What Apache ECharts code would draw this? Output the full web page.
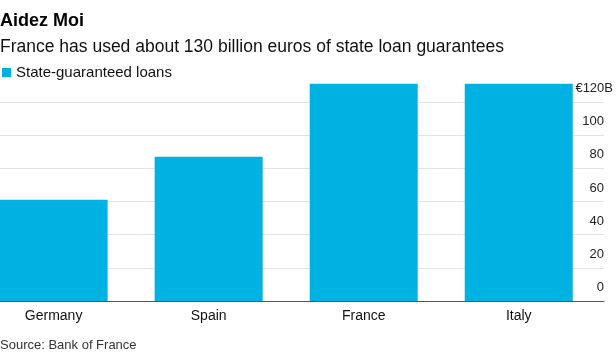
<!DOCTYPE html>
<html>
<head>
<meta charset="utf-8">
<script src="https://cdn.jsdelivr.net/npm/echarts@6/dist/echarts.min.js"></script>
<style>
html,body{margin:0;padding:0;background:#fff;}
#c{width:616px;height:361px;}
</style>
</head>
<body>
<div id="c"></div>
<script>
const categories = ['Germany', 'Spain', 'France', 'Italy'];
const loans = [61, 87, 131, 131];
const seriesName = 'State-guaranteed loans';
const yTicks = [0, 20, 40, 60, 80, 100, 120];
const titleText = 'Aidez Moi';
const subtitleText = 'France has used about 130 billion euros of state loan guarantees';
const sourceText = 'Source: Bank of France';

const FONT = '"Liberation Sans", Arial, Helvetica, sans-serif';
const BAR = '#00b2e2';

// category index axis window (the first band is cut by the left edge)
const X_MIN = -0.3458;
const X_MAX = 3.5499;

const barData = categories.map((c, i) => ({name: c, value: [i, loans[i]]}));

const chart = echarts.init(document.getElementById('c'), null, {renderer: 'canvas'});
chart.setOption({
  animation: false,
  backgroundColor: '#ffffff',
  textStyle: {fontFamily: FONT},
  title: [
    {text: titleText, left: 0, top: 12, padding: 0,
     textStyle: {fontFamily: FONT, fontSize: 18, fontWeight: 'bold', color: '#000'}},
    {text: subtitleText, left: 0, top: 38, padding: 0,
     textStyle: {fontFamily: FONT, fontSize: 17.5, fontWeight: 'normal', color: '#111'}},
    {text: sourceText, left: 0, top: 339, padding: 0,
     textStyle: {fontFamily: FONT, fontSize: 13, fontWeight: 'normal', color: '#333'}}
  ],
  legend: {
    data: [seriesName], left: 2, top: 65, padding: 0,
    icon: 'rect', itemWidth: 9, itemHeight: 9, itemGap: 10,
    textStyle: {fontFamily: FONT, fontSize: 15, color: '#111'}
  },
  grid: {left: 0, right: 11, top: 102, bottom: 60, containLabel: false},
  xAxis: {
    type: 'value', min: X_MIN, max: X_MAX,
    axisLine: {show: true, onZero: false, lineStyle: {color: '#555', width: 1}},
    axisTick: {show: false},
    splitLine: {show: false},
    axisLabel: {
      show: true, margin: 8, fontFamily: FONT, fontSize: 14, color: '#111',
      customValues: categories.map((c, i) => i),
      formatter: function (v) { return categories[Math.round(v)] || ''; }
    }
  },
  yAxis: {
    type: 'value', min: 0, max: 120, interval: 20, position: 'right',
    axisLine: {show: false}, axisTick: {show: false},
    splitLine: {show: true, lineStyle: {color: '#e3e3e3', width: 1}},
    axisLabel: {
      inside: true, margin: -9, align: 'right', verticalAlign: 'bottom',
      fontFamily: FONT, fontSize: 13, color: '#222',
      formatter: function (v) {
        return v === yTicks[yTicks.length - 1] ? '{t|€' + v + 'B}' : '{n|' + v + '}';
      },
      rich: {
        t: {fontFamily: FONT, fontSize: 13, color: '#222', padding: [0, 0, 7, 0]},
        n: {fontFamily: FONT, fontSize: 13, color: '#222', padding: [0, 9, 7, 0]}
      }
    }
  },
  series: [
    {name: seriesName, type: 'bar', data: barData, barWidth: 108, clip: false, z: 1,
     itemStyle: {color: BAR}}
  ]
});
</script>
</body>
</html>
